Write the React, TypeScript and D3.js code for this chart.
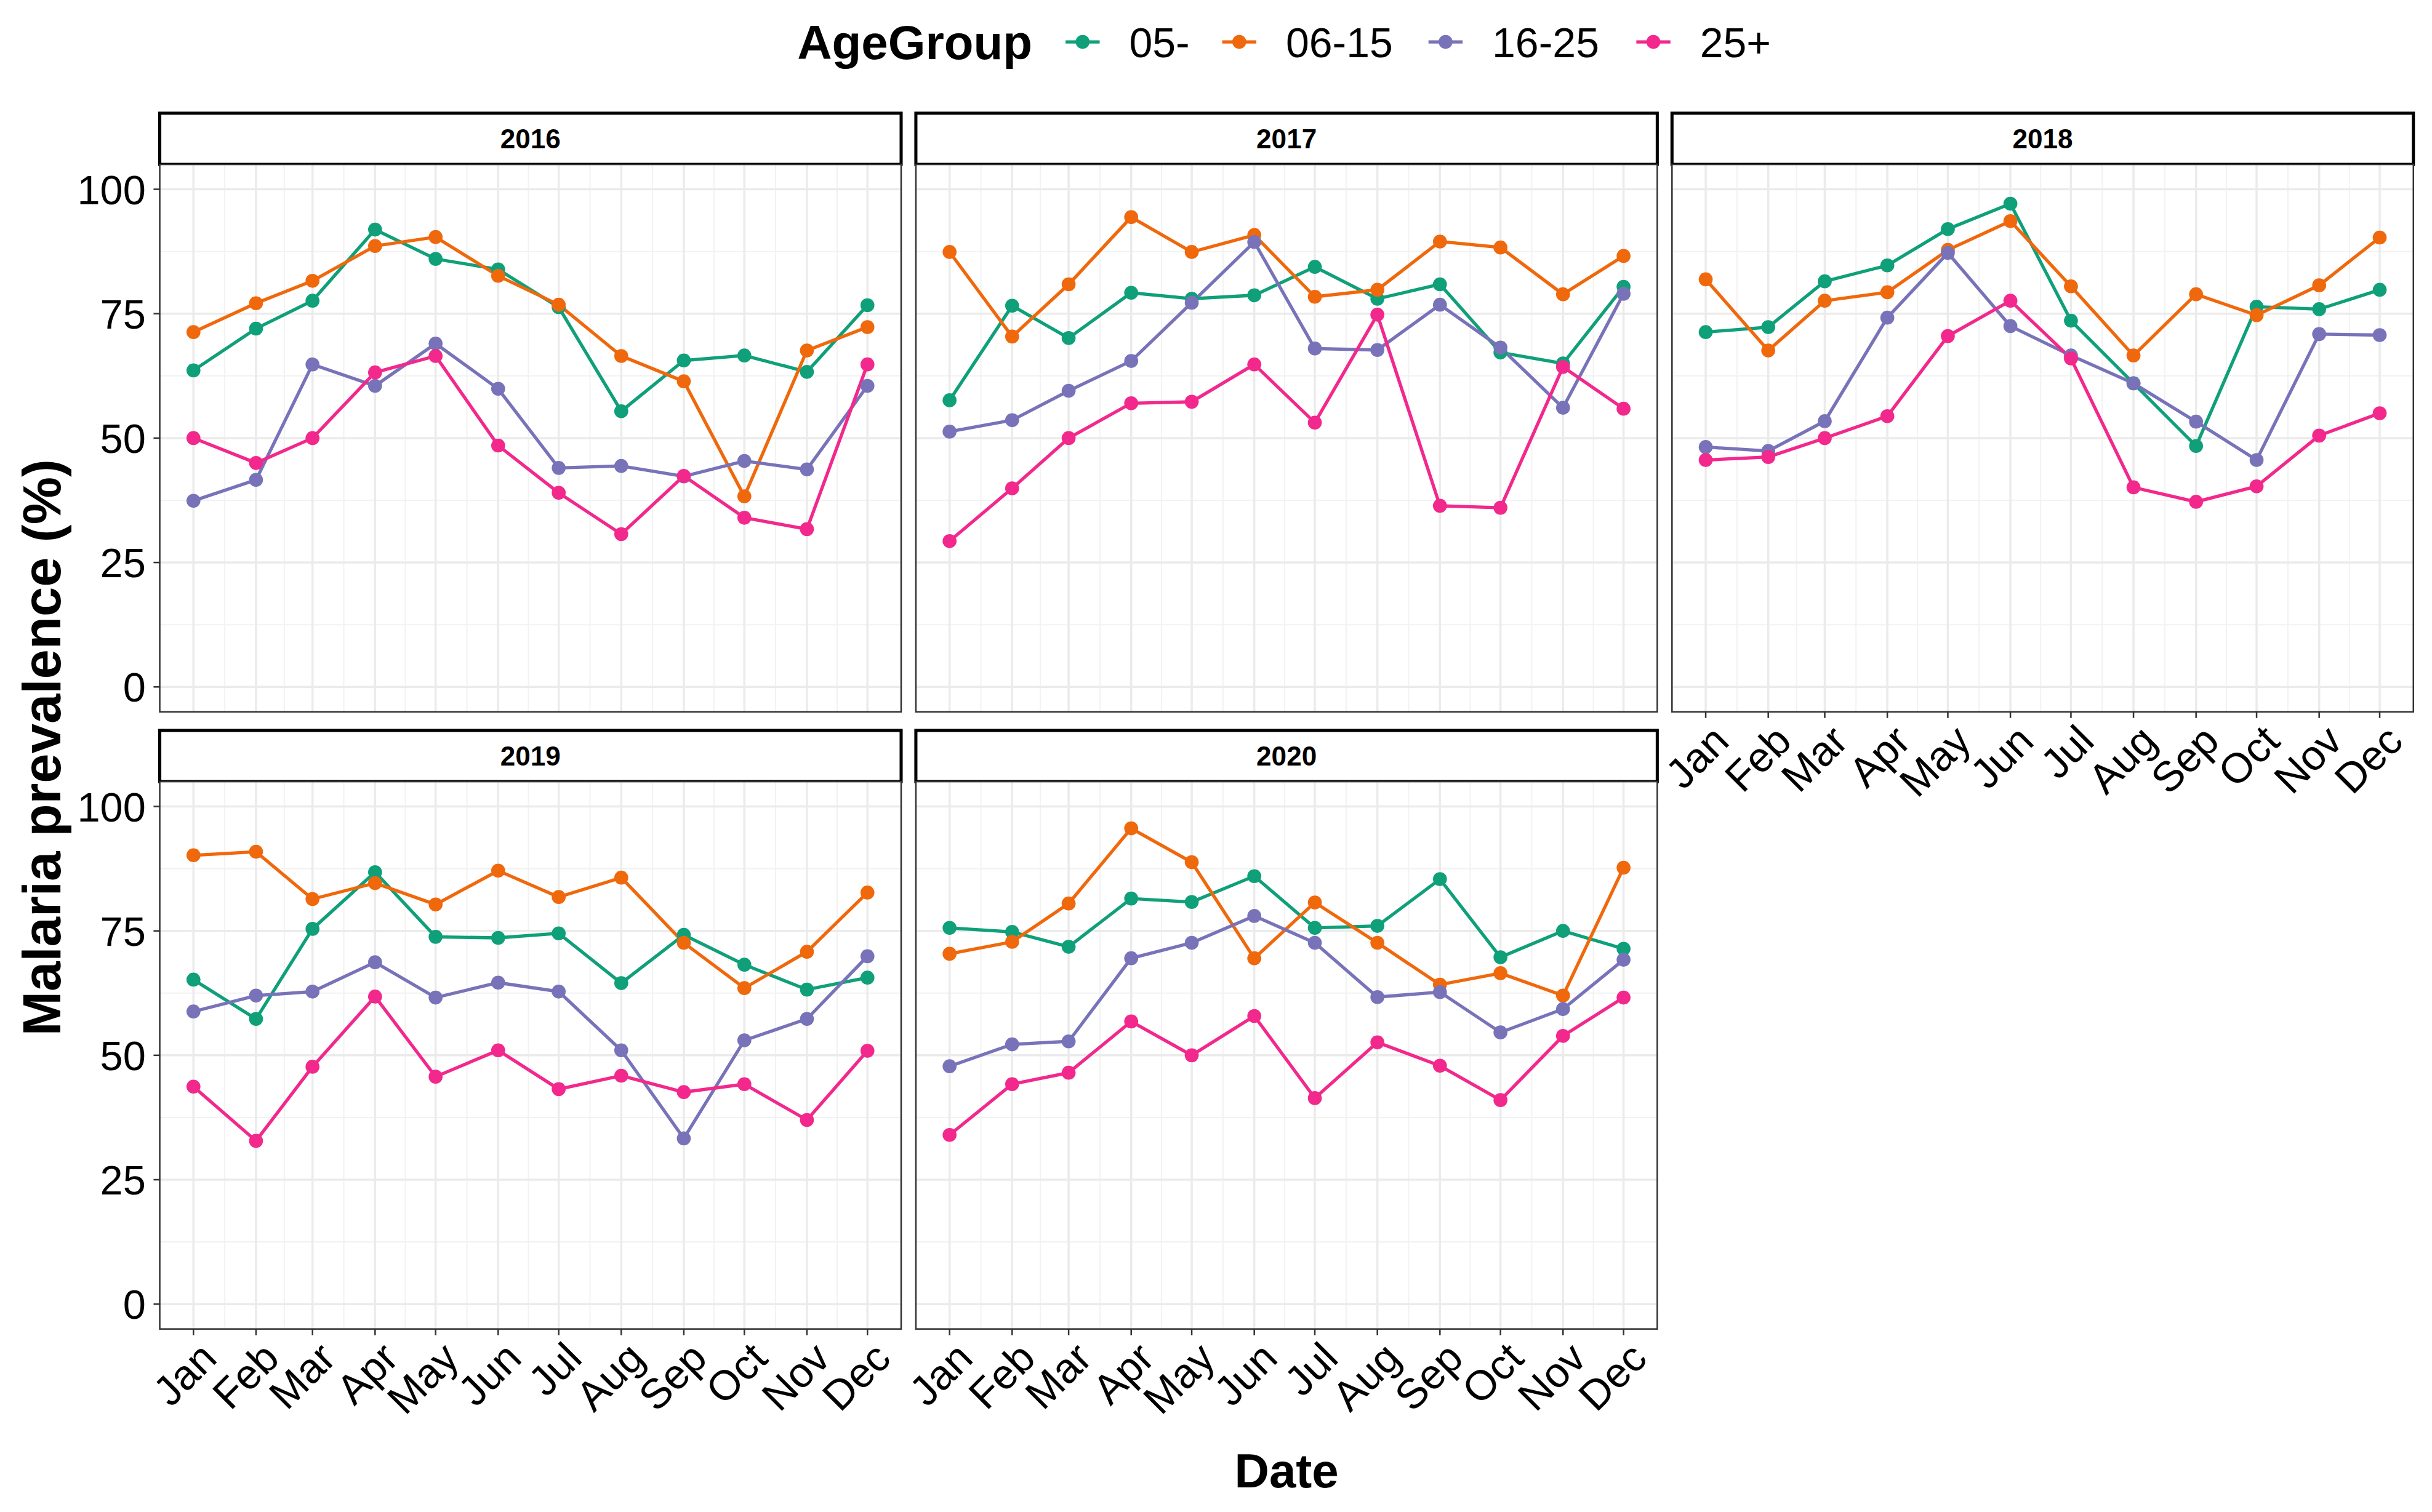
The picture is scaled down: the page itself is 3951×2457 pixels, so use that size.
import React from 'react';
import * as d3 from 'd3';

const months = ['Jan', 'Feb', 'Mar', 'Apr', 'May', 'Jun', 'Jul', 'Aug', 'Sep', 'Oct', 'Nov', 'Dec'];
const ageGroups = ['05-', '06-15', '16-25', '25+'];
const groupColors = ['#0FA07A', '#F0680C', '#7873B9', '#F2288C'];
const years = ['2016', '2017', '2018', '2019', '2020'];
const yTicks = [0, 25, 50, 75, 100];
const yMinorTicks = [12.5, 37.5, 62.5, 87.5];

// one row per age group: 05-, 06-15, 16-25, 25+
const prev2016 = [
  [63.6, 72.0, 77.6, 91.9, 86.0, 83.9, 76.3, 55.4, 65.6, 66.6, 63.3, 76.7],
  [71.3, 77.1, 81.6, 88.6, 90.4, 82.6, 76.8, 66.5, 61.4, 38.3, 67.6, 72.3],
  [37.4, 41.6, 64.8, 60.5, 69.0, 59.9, 44.0, 44.4, 42.3, 45.4, 43.7, 60.5],
  [50.0, 45.0, 50.0, 63.2, 66.5, 48.5, 39.0, 30.7, 42.4, 34.0, 31.7, 64.8],
];
const prev2017 = [
  [57.6, 76.6, 70.1, 79.2, 78.0, 78.7, 84.4, 78.0, 80.9, 67.2, 65.0, 80.4],
  [87.4, 70.4, 80.9, 94.4, 87.4, 90.8, 78.4, 79.8, 89.5, 88.3, 78.9, 86.6],
  [51.3, 53.6, 59.5, 65.5, 77.2, 89.4, 68.0, 67.7, 76.8, 68.2, 56.1, 79.0],
  [29.3, 39.9, 50.0, 57.0, 57.3, 64.8, 53.1, 74.8, 36.4, 36.0, 64.3, 55.9],
];
const prev2018 = [
  [71.3, 72.3, 81.5, 84.7, 92.0, 97.1, 73.6, 61.0, 48.4, 76.4, 75.9, 79.8],
  [81.9, 67.6, 77.6, 79.3, 87.8, 93.6, 80.5, 66.6, 78.9, 74.7, 80.7, 90.3],
  [48.2, 47.4, 53.4, 74.2, 87.2, 72.5, 66.6, 61.0, 53.3, 45.6, 70.9, 70.7],
  [45.6, 46.2, 50.0, 54.4, 70.5, 77.6, 66.0, 40.1, 37.2, 40.3, 50.5, 55.0],
];
const prev2019 = [
  [65.2, 57.3, 75.4, 86.8, 73.8, 73.6, 74.5, 64.5, 74.2, 68.2, 63.2, 65.6],
  [90.2, 90.9, 81.4, 84.6, 80.3, 87.1, 81.8, 85.7, 72.6, 63.5, 70.8, 82.7],
  [58.8, 62.0, 62.8, 68.7, 61.6, 64.6, 62.8, 51.0, 33.3, 53.0, 57.3, 69.9],
  [43.7, 32.8, 47.7, 61.8, 45.7, 51.0, 43.2, 45.9, 42.6, 44.2, 37.0, 50.9],
];
const prev2020 = [
  [75.6, 74.8, 71.8, 81.5, 80.8, 86.0, 75.6, 76.0, 85.4, 69.7, 75.0, 71.4],
  [70.4, 72.8, 80.5, 95.6, 88.8, 69.5, 80.7, 72.6, 64.2, 66.5, 62.0, 87.7],
  [47.8, 52.2, 52.8, 69.5, 72.6, 78.0, 72.6, 61.7, 62.7, 54.6, 59.3, 69.2],
  [34.0, 44.2, 46.5, 56.8, 50.0, 57.9, 41.4, 52.6, 47.9, 41.0, 53.9, 61.6],
];
const prevByYear = [prev2016, prev2017, prev2018, prev2019, prev2020];

const W = 1568;
const H = 975;
const FONT = '"Liberation Sans", Arial, Helvetica, sans-serif';
const colX = [103, 590.5, 1078];
const stripTop = [73, 471];
const stripH = 33;
const panelW = 478;
const panelH = 353;
const legendKeyX = [698, 799, 932, 1066];

const monthDates = months.map((_, i) => new Date(Date.UTC(2019, i, 1)));
const minorDates = monthDates.slice(1).map((d, i) => new Date((d.getTime() + monthDates[i].getTime()) / 2));
const span = monthDates[11].getTime() - monthDates[0].getTime();
const xScale = d3.scaleUtc()
  .domain([new Date(monthDates[0].getTime() - span * 0.05), new Date(monthDates[11].getTime() + span * 0.05)])
  .range([0, panelW]);
const yScale = d3.scaleLinear().domain([-5, 105]).range([panelH, 0]);

const line = d3.line<number>()
  .x((_, i) => xScale(monthDates[i]))
  .y(d => yScale(d));

const Panel: React.FC<{ idx: number }> = ({ idx }) => {
  const col = idx % 3;
  const row = Math.floor(idx / 3);
  const x0 = colX[col];
  const sTop = stripTop[row];
  const pTop = sTop + stripH;
  const showY = col === 0;
  const showX = row === 1 || idx === 2;
  const data = prevByYear[idx];

  return (
    <g>
      {/* strip */}
      <rect x={x0} y={sTop} width={panelW} height={stripH} fill="#fff" stroke="#000" strokeWidth={2} />
      <text x={x0 + panelW / 2} y={sTop + stripH / 2} dy="0.36em" textAnchor="middle"
        fontSize={17.5} fontWeight="bold" fontFamily={FONT}>{years[idx]}</text>

      <g transform={`translate(${x0},${pTop})`}>
        <rect width={panelW} height={panelH} fill="#fff" />
        {/* grid */}
        {yMinorTicks.map(t => (
          <line key={'ym' + t} x1={0} x2={panelW} y1={yScale(t)} y2={yScale(t)} stroke="#F2F2F2" strokeWidth={0.8} />
        ))}
        {minorDates.map((d, i) => (
          <line key={'xm' + i} x1={xScale(d)} x2={xScale(d)} y1={0} y2={panelH} stroke="#F2F2F2" strokeWidth={0.8} />
        ))}
        {yTicks.map(t => (
          <line key={'y' + t} x1={0} x2={panelW} y1={yScale(t)} y2={yScale(t)} stroke="#EBEBEB" strokeWidth={1.4} />
        ))}
        {monthDates.map((d, i) => (
          <line key={'x' + i} x1={xScale(d)} x2={xScale(d)} y1={0} y2={panelH} stroke="#EBEBEB" strokeWidth={1.4} />
        ))}

        {/* lines */}
        {data.map((vals, g) => (
          <path key={'l' + g} d={line(vals) || ''} fill="none" stroke={groupColors[g]} strokeWidth={2.1} />
        ))}
        {/* points */}
        {data.map((vals, g) => (
          <g key={'p' + g} fill={groupColors[g]}>
            {vals.map((v, i) => (
              <circle key={i} cx={xScale(monthDates[i])} cy={yScale(v)} r={4.5} />
            ))}
          </g>
        ))}

        <rect width={panelW} height={panelH} fill="none" stroke="#333" strokeWidth={1} />

        {showY && yTicks.map(t => (
          <g key={'yt' + t}>
            <line x1={-4} x2={0} y1={yScale(t)} y2={yScale(t)} stroke="#333" strokeWidth={1} />
            <text x={-9} y={yScale(t)} dy="0.36em" textAnchor="end" fontSize={26.5} fontFamily={FONT} fill="#000">{t}</text>
          </g>
        ))}
        {showX && monthDates.map((d, i) => (
          <g key={'xt' + i}>
            <line x1={xScale(d)} x2={xScale(d)} y1={panelH} y2={panelH + 4} stroke="#333" strokeWidth={1} />
            <text transform={`translate(${xScale(d) + 2},${panelH + 6}) rotate(-45)`} textAnchor="end"
              dy="0.75em" fontSize={27} fontFamily={FONT} fill="#000">{months[i]}</text>
          </g>
        ))}
      </g>
    </g>
  );
};

const App: React.FC = () => {
  const plotCenterX = (colX[0] + colX[2] + panelW) / 2;
  const yTitleCenter = 482;
  return (
    <div>
      <style>{'body{margin:0;}'}</style>
      <svg width={3951} height={2457} viewBox={`0 0 ${W} ${H}`} preserveAspectRatio="none"
        style={{ display: 'block', background: '#fff' }}>
        <rect width={W} height={H} fill="#fff" />

        {/* legend */}
        <text x={514} y={38} fontSize={31} fontWeight="bold" fontFamily={FONT}>AgeGroup</text>
        {ageGroups.map((g, i) => (
          <g key={g}>
            <line x1={legendKeyX[i] - 11} x2={legendKeyX[i] + 11} y1={27} y2={27} stroke={groupColors[i]} strokeWidth={2.1} />
            <circle cx={legendKeyX[i]} cy={27} r={4.5} fill={groupColors[i]} />
            <text x={legendKeyX[i] + 30} y={27} dy="0.36em" fontSize={27} fontFamily={FONT}>{g}</text>
          </g>
        ))}

        {years.map((_, i) => <Panel key={i} idx={i} />)}

        {/* axis titles */}
        <text transform={`translate(39,${yTitleCenter}) rotate(-90)`} textAnchor="middle"
          fontSize={34.5} fontWeight="bold" fontFamily={FONT}>Malaria prevalence (%)</text>
        <text x={plotCenterX} y={959} textAnchor="middle" fontSize={31} fontWeight="bold" fontFamily={FONT}>Date</text>
      </svg>
    </div>
  );
};

export default App;
